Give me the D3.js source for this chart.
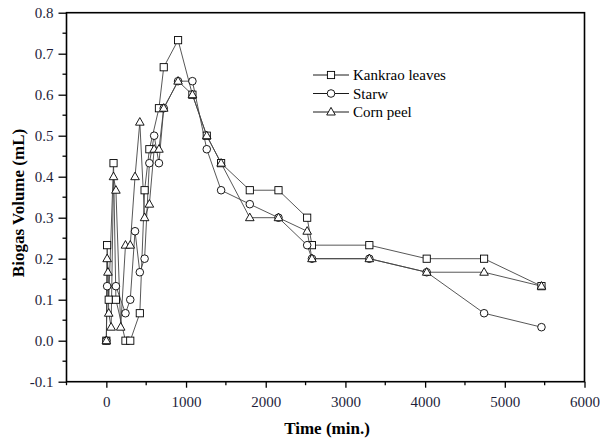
<!DOCTYPE html>
<html>
<head>
<meta charset="utf-8">
<script src="https://cdn.jsdelivr.net/npm/d3@7"></script>
<style>
  html, body { margin: 0; padding: 0; background: #fff; }
  svg { display: block; }
  text { font-family: "Liberation Serif", "Times New Roman", serif; }
</style>
</head>
<body>
<svg id="chart" width="600" height="439"></svg>
<script>
// Biogas volume measured over time for three substrates
const seriesNames = ["Kankrao leaves", "Starw", "Corn peel"];

const kankraoTime = [0, 10, 30, 90, 120, 240, 300, 420, 480, 540, 660, 720, 900, 1080, 1260, 1440, 1800, 2160, 2520, 2580, 3300, 4020, 4740, 5460];
const kankraoVolume = [0, 0.233, 0.1, 0.433, 0.1, 0, 0, 0.067, 0.367, 0.467, 0.567, 0.667, 0.733, 0.6, 0.5, 0.433, 0.367, 0.367, 0.3, 0.233, 0.233, 0.2, 0.2, 0.133];

const starwTime = [0, 10, 120, 240, 300, 360, 420, 480, 540, 600, 660, 720, 900, 1080, 1260, 1440, 1800, 2160, 2520, 2580, 3300, 4020, 4740, 5460];
const starwVolume = [0, 0.133, 0.133, 0.067, 0.1, 0.267, 0.167, 0.2, 0.433, 0.5, 0.433, 0.567, 0.633, 0.633, 0.467, 0.367, 0.333, 0.3, 0.233, 0.2, 0.2, 0.167, 0.067, 0.033];

const cornTime = [0, 10, 20, 30, 60, 90, 120, 180, 240, 300, 360, 420, 480, 540, 600, 660, 720, 900, 1080, 1260, 1440, 1800, 2160, 2520, 2580, 3300, 4020, 4740, 5460];
const cornVolume = [0, 0.2, 0.167, 0.067, 0.033, 0.4, 0.367, 0.033, 0.233, 0.233, 0.4, 0.533, 0.3, 0.333, 0.467, 0.467, 0.567, 0.633, 0.6, 0.5, 0.433, 0.3, 0.3, 0.267, 0.2, 0.2, 0.167, 0.167, 0.133];

const xTicks = [0, 1000, 2000, 3000, 4000, 5000, 6000];
const yTicks = [-0.1, 0.0, 0.1, 0.2, 0.3, 0.4, 0.5, 0.6, 0.7, 0.8];

const svg = d3.select("#chart");
const plotLeft = 66.5, plotRight = 584.5, plotTop = 12.7, plotBottom = 381.7;

const x = d3.scaleLinear().domain([-500, 6000]).range([plotLeft, plotRight]);
const y = d3.scaleLinear().domain([-0.1, 0.8]).range([plotBottom, plotTop]);

const textColor = "#1e1e3a";

// minor ticks
const xMinor = d3.range(-500, 6001, 500).filter(v => v % 1000 !== 0);
const yMinor = d3.range(-0.05, 0.8, 0.1);

const xAxis = d3.axisBottom(x).tickValues(xTicks).tickFormat(d => String(d)).tickSize(6).tickPadding(8.5);
const yAxis = d3.axisLeft(y).tickValues(yTicks).tickFormat(d => d.toFixed(1)).tickSize(8).tickPadding(5);

const gx = svg.append("g").attr("transform", `translate(0,${plotBottom})`).call(xAxis);
const gy = svg.append("g").attr("transform", `translate(${plotLeft},0)`).call(yAxis);
[gx, gy].forEach(g => {
  g.select(".domain").remove();
  g.selectAll("line").attr("stroke", "#000").attr("stroke-width", 1.3);
  g.selectAll("text").attr("fill", textColor).style("font-size", "15px")
    .style("font-family", "'Liberation Serif', serif");
});

svg.append("g").selectAll("line").data(xMinor).join("line")
  .attr("x1", d => x(d)).attr("x2", d => x(d))
  .attr("y1", plotBottom).attr("y2", plotBottom + 3.5)
  .attr("stroke", "#000").attr("stroke-width", 1.3);
svg.append("g").selectAll("line").data(yMinor).join("line")
  .attr("x1", plotLeft - 4).attr("x2", plotLeft)
  .attr("y1", d => y(d)).attr("y2", d => y(d))
  .attr("stroke", "#000").attr("stroke-width", 1.3);

// frame
svg.append("rect")
  .attr("x", plotLeft).attr("y", plotTop)
  .attr("width", plotRight - plotLeft).attr("height", plotBottom - plotTop)
  .attr("fill", "none").attr("stroke", "#000").attr("stroke-width", 1.6);

// axis titles
svg.append("text")
  .attr("x", 327).attr("y", 434)
  .attr("text-anchor", "middle")
  .style("font-size", "17px").style("font-weight", "bold")
  .attr("fill", "#000")
  .text("Time (min.)");
svg.append("text")
  .attr("transform", `translate(24,203) rotate(-90)`)
  .attr("text-anchor", "middle")
  .style("font-size", "17px").style("font-weight", "bold")
  .attr("fill", "#000")
  .text("Biogas Volume (mL)");

// symbols
function drawSymbol(g, type, cx, cy) {
  if (type === "square") {
    g.append("rect").attr("x", cx - 3.6).attr("y", cy - 3.6).attr("width", 7.2).attr("height", 7.2)
      .attr("fill", "#fff").attr("stroke", "#000").attr("stroke-width", 0.9);
  } else if (type === "circle") {
    g.append("circle").attr("cx", cx).attr("cy", cy).attr("r", 3.8)
      .attr("fill", "#fff").attr("stroke", "#000").attr("stroke-width", 0.9);
  } else {
    g.append("path")
      .attr("d", `M${cx},${cy - 4.6} L${cx + 4.3},${cy + 3} L${cx - 4.3},${cy + 3} Z`)
      .attr("fill", "#fff").attr("stroke", "#000").attr("stroke-width", 0.9);
  }
}

const series = [
  { name: seriesNames[0], t: kankraoTime, v: kankraoVolume, sym: "square" },
  { name: seriesNames[1], t: starwTime, v: starwVolume, sym: "circle" },
  { name: seriesNames[2], t: cornTime, v: cornVolume, sym: "triangle" }
];

const line = d3.line().x(d => x(d[0])).y(d => y(d[1]));

series.forEach(s => {
  const pts = s.t.map((t, i) => [t, s.v[i]]);
  svg.append("path").datum(pts)
    .attr("d", line)
    .attr("fill", "none").attr("stroke", "#444").attr("stroke-width", 0.9);
});
series.forEach(s => {
  const g = svg.append("g");
  s.t.forEach((t, i) => drawSymbol(g, s.sym, x(t), y(s.v[i])));
});

// legend
const legend = svg.append("g");
series.forEach((s, i) => {
  const ly = 75 + i * 18.5;
  legend.append("line").attr("x1", 313).attr("x2", 349).attr("y1", ly).attr("y2", ly)
    .attr("stroke", "#000").attr("stroke-width", 0.9);
  drawSymbol(legend, s.sym, 331, ly);
  legend.append("text").attr("x", 353).attr("y", ly + 5)
    .style("font-size", "15px").attr("fill", "#000")
    .text(s.name);
});
</script>
</body>
</html>
